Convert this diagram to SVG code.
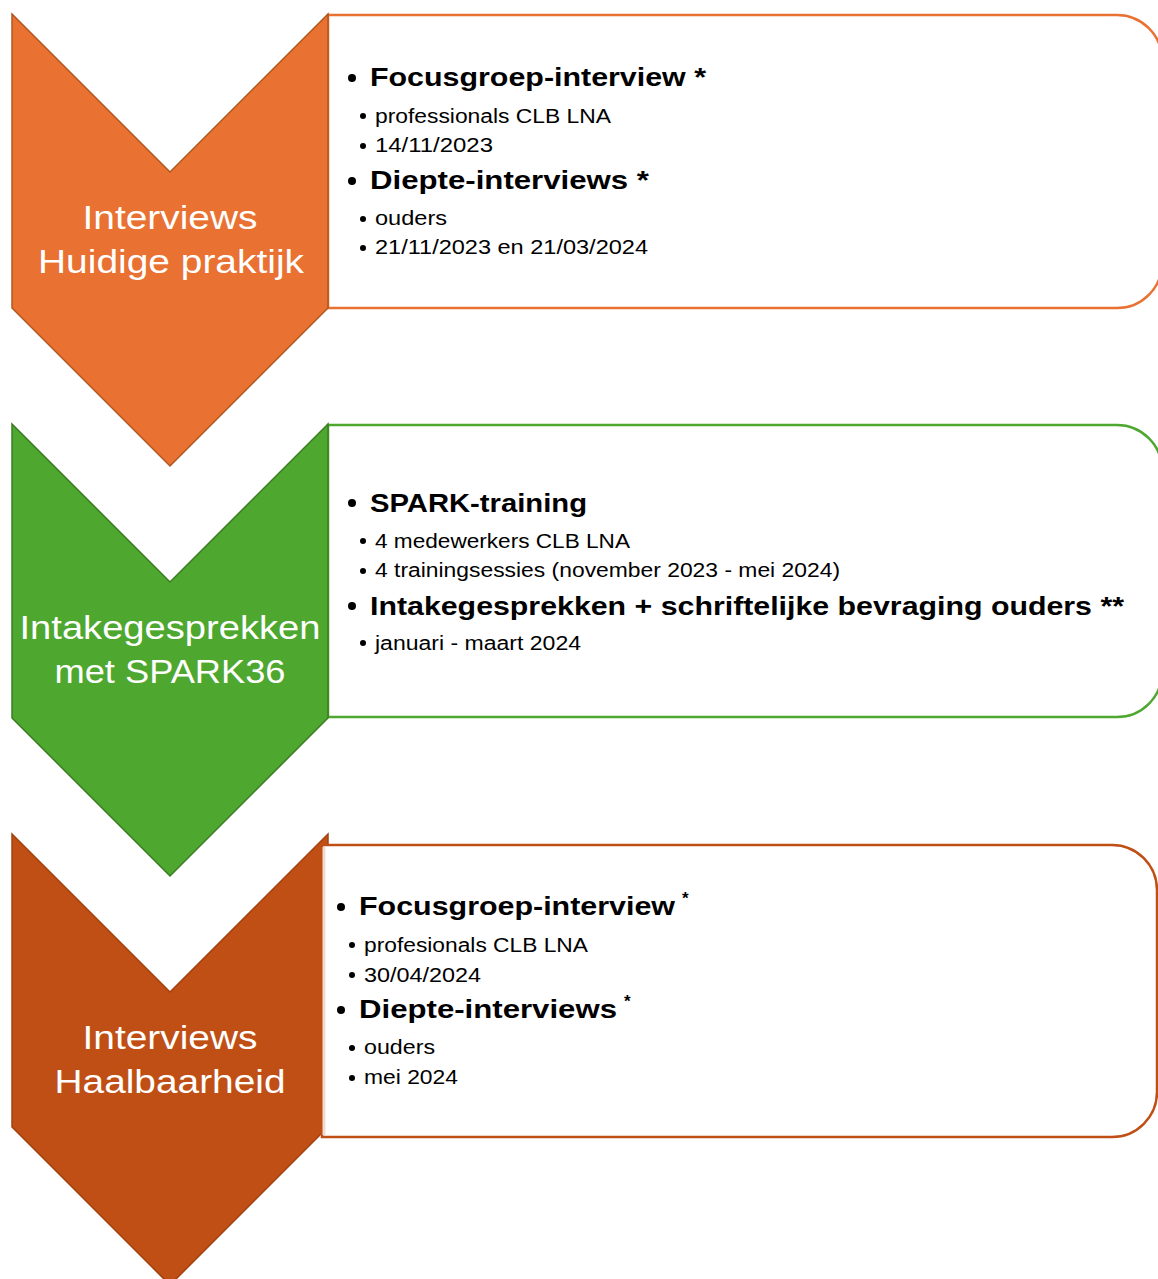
<svg xmlns="http://www.w3.org/2000/svg" width="1158" height="1279" viewBox="0 0 1158 1279">
<style>
.lbl{font-family:"Liberation Sans",Arial,sans-serif;font-size:34px;fill:#ffffff;text-anchor:middle}
.h{font-family:"Liberation Sans",Arial,sans-serif;font-size:26px;font-weight:bold;fill:#000}
.s{font-family:"Liberation Sans",Arial,sans-serif;font-size:20px;fill:#000}
.sup{font-family:"Liberation Sans",Arial,sans-serif;font-size:17px;font-weight:bold;fill:#000}
.box{fill:#ffffff;stroke-width:2.5}
.dot{fill:#000}
</style>
<rect width="1158" height="1279" fill="#ffffff"/>
<g id="connectors"/>
<g id="step1">
<path class="box" stroke="#E97132" d="M328,15 H1117 A45,45 0 0 1 1162,60 V263 A45,45 0 0 1 1117,308 H328 Z"/>
<path d="M12,14 L170,172 L328,14 L328,308 L170,466 L12,308 Z" fill="#E97132" stroke="#B0561F" stroke-width="1.5"/>
<text class="lbl" x="170" y="229" textLength="175" lengthAdjust="spacingAndGlyphs">Interviews</text>
<text class="lbl" x="171" y="273" textLength="266" lengthAdjust="spacingAndGlyphs">Huidige praktijk</text>
<circle class="dot" cx="352" cy="78" r="4"/>
<text class="h" x="370" y="86" textLength="336" lengthAdjust="spacingAndGlyphs">Focusgroep-interview *</text>
<circle class="dot" cx="363" cy="116" r="3"/>
<text class="s" x="375" y="123" textLength="236" lengthAdjust="spacingAndGlyphs">professionals CLB LNA</text>
<circle class="dot" cx="363" cy="146" r="3"/>
<text class="s" x="375" y="152" textLength="118" lengthAdjust="spacingAndGlyphs">14/11/2023</text>
<circle class="dot" cx="352" cy="181" r="4"/>
<text class="h" x="370" y="189" textLength="279" lengthAdjust="spacingAndGlyphs">Diepte-interviews *</text>
<circle class="dot" cx="363" cy="219" r="3"/>
<text class="s" x="375" y="225" textLength="72" lengthAdjust="spacingAndGlyphs">ouders</text>
<circle class="dot" cx="363" cy="248" r="3"/>
<text class="s" x="375" y="254" textLength="273" lengthAdjust="spacingAndGlyphs">21/11/2023 en 21/03/2024</text>
</g>
<g id="step2">
<path class="box" stroke="#4EA72E" d="M328,425 H1117 A45,45 0 0 1 1162,470 V672 A45,45 0 0 1 1117,717 H328 Z"/>
<path d="M12,424 L170,582 L328,424 L328,718 L170,876 L12,718 Z" fill="#4EA72E" stroke="#3B7D22" stroke-width="1.5"/>
<text class="lbl" x="170" y="639" textLength="301" lengthAdjust="spacingAndGlyphs">Intakegesprekken</text>
<text class="lbl" x="170" y="683" textLength="231" lengthAdjust="spacingAndGlyphs">met SPARK36</text>
<circle class="dot" cx="352" cy="503" r="4"/>
<text class="h" x="370" y="512" textLength="217" lengthAdjust="spacingAndGlyphs">SPARK-training</text>
<circle class="dot" cx="363" cy="541" r="3"/>
<text class="s" x="375" y="548" textLength="255" lengthAdjust="spacingAndGlyphs">4 medewerkers CLB LNA</text>
<circle class="dot" cx="363" cy="571" r="3"/>
<text class="s" x="375" y="577" textLength="465" lengthAdjust="spacingAndGlyphs">4 trainingsessies (november 2023 - mei 2024)</text>
<circle class="dot" cx="352" cy="606" r="4"/>
<text class="h" x="370" y="615" textLength="754" lengthAdjust="spacingAndGlyphs">Intakegesprekken + schriftelijke bevraging ouders **</text>
<circle class="dot" cx="363" cy="643" r="3"/>
<text class="s" x="375" y="650" textLength="206" lengthAdjust="spacingAndGlyphs">januari - maart 2024</text>
</g>
<g id="step3">
<path d="M12,834 L170,992 L328,834 L328,1127 L170,1285 L12,1127 Z" fill="#C04F15" stroke="#A3410F" stroke-width="1.5"/>
<path class="box" stroke="#C04F15" d="M322,845 H1112 A45,45 0 0 1 1157,890 V1092 A45,45 0 0 1 1112,1137 H322 Z"/>
<line x1="324" y1="847" x2="324" y2="1135" stroke="#F2DCCF" stroke-width="3"/>
<text class="lbl" x="170" y="1049" textLength="175" lengthAdjust="spacingAndGlyphs">Interviews</text>
<text class="lbl" x="170" y="1093" textLength="231" lengthAdjust="spacingAndGlyphs">Haalbaarheid</text>
<circle class="dot" cx="341" cy="907" r="4"/>
<text class="h" x="359" y="915" textLength="316" lengthAdjust="spacingAndGlyphs">Focusgroep-interview</text>
<text class="sup" x="682" y="904">*</text>
<circle class="dot" cx="352" cy="945" r="3"/>
<text class="s" x="364" y="952" textLength="224" lengthAdjust="spacingAndGlyphs">profesionals CLB LNA</text>
<circle class="dot" cx="352" cy="975" r="3"/>
<text class="s" x="364" y="982" textLength="117" lengthAdjust="spacingAndGlyphs">30/04/2024</text>
<circle class="dot" cx="341" cy="1010" r="4"/>
<text class="h" x="359" y="1018" textLength="258" lengthAdjust="spacingAndGlyphs">Diepte-interviews</text>
<text class="sup" x="624" y="1007">*</text>
<circle class="dot" cx="352" cy="1048" r="3"/>
<text class="s" x="364" y="1054" textLength="71" lengthAdjust="spacingAndGlyphs">ouders</text>
<circle class="dot" cx="352" cy="1078" r="3"/>
<text class="s" x="364" y="1084" textLength="94" lengthAdjust="spacingAndGlyphs">mei 2024</text>
</g>
</svg>
